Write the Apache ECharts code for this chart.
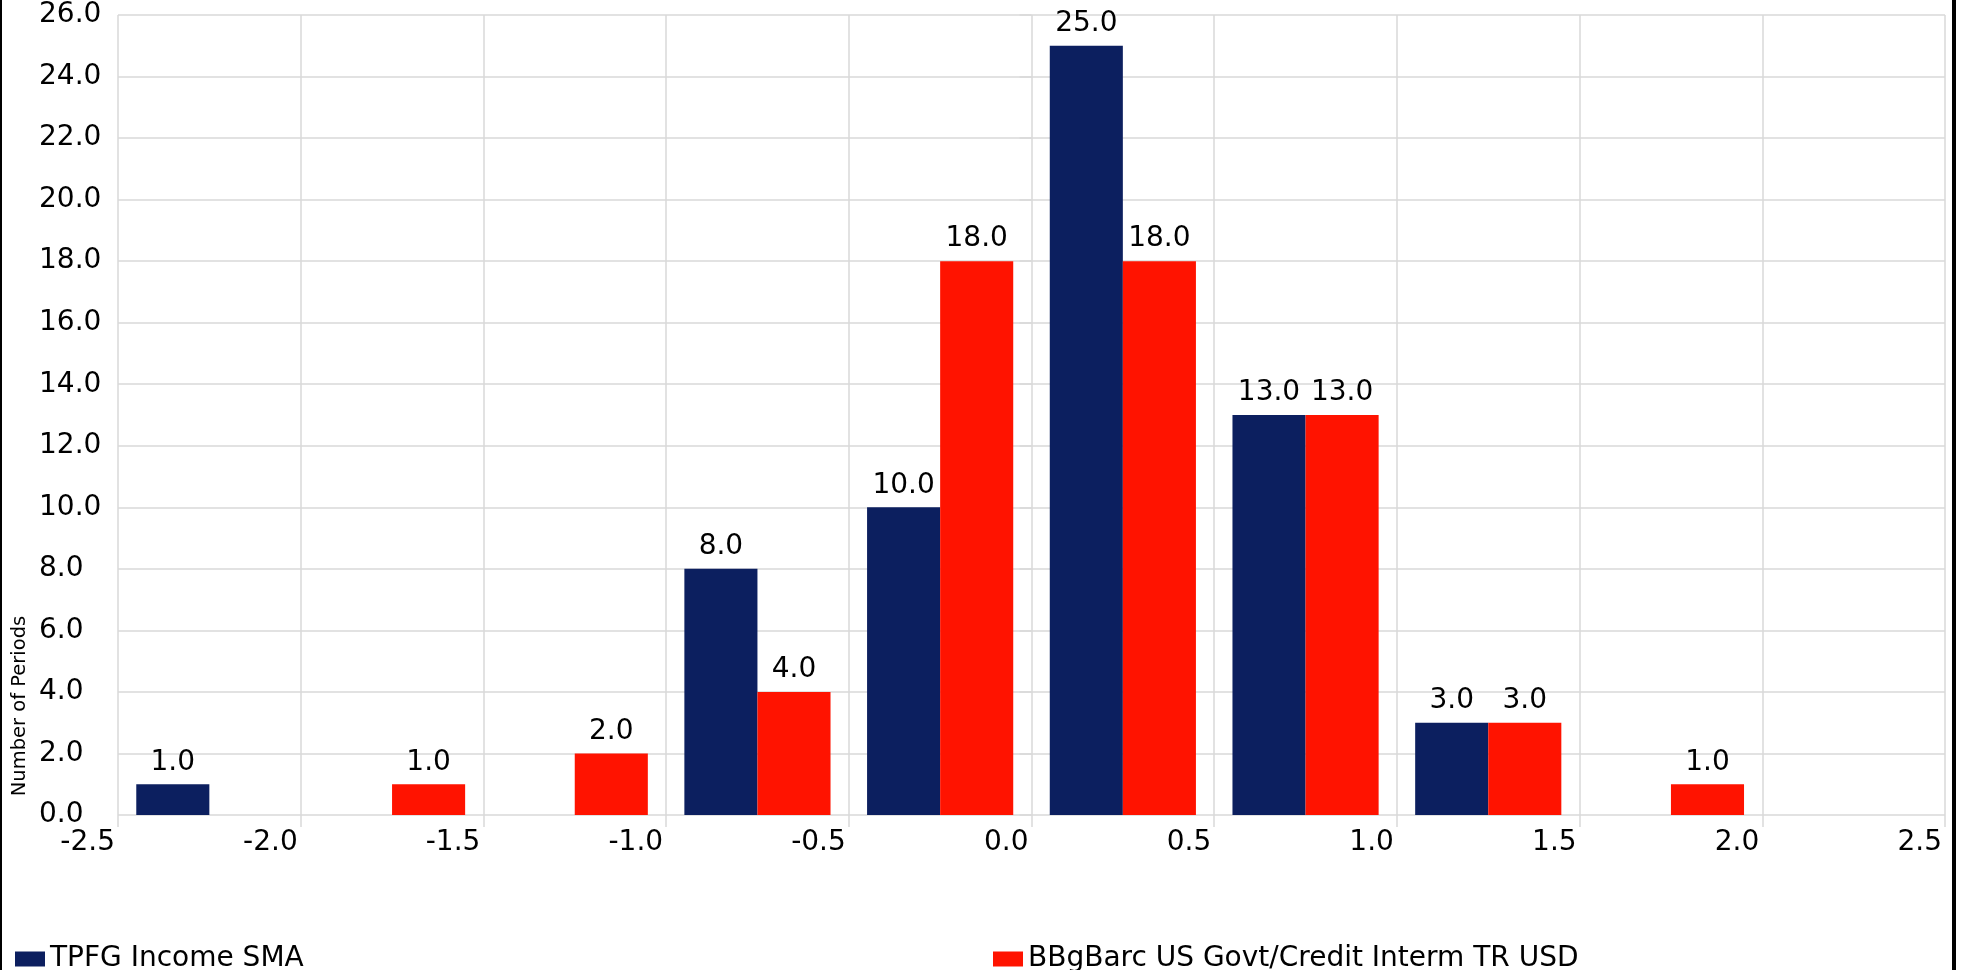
<!DOCTYPE html>
<html>
<head>
<meta charset="utf-8">
<title>Return distribution</title>
<script src="https://cdn.jsdelivr.net/npm/echarts@6/dist/echarts.min.js"></script>
<style>
  html, body { margin: 0; padding: 0; background: #fff; }
  #wrap { position: relative; width: 1963px; height: 970px; overflow: hidden; }
  #chart { position: absolute; left: 0; top: 0; width: 1963px; height: 970px; }
  .edge { position: absolute; top: 0; height: 970px; background: #000; }
</style>
</head>
<body>
<div id="wrap">
  <div id="chart"></div>
  <div class="edge" style="left:0;width:2px;"></div>
  <div class="edge" style="left:1952px;width:4px;"></div>
</div>
<script>
// Histogram bins (centre of each 0.5-wide return bucket)
const binCenters = ['-2.25', '-1.75', '-1.25', '-0.75', '-0.25', '0.25', '0.75', '1.25', '1.75', '2.25'];

// Number of periods falling in each bin
const fundName = 'TPFG Income SMA';
const fundCounts = [1, 0, 0, 8, 10, 25, 13, 3, 0, 0];

const benchName = 'BBgBarc US Govt/Credit Interm TR USD';
const benchCounts = [0, 1, 2, 4, 18, 18, 13, 3, 1, 0];

// Return axis range and y-axis range
const xMin = -2.5, xMax = 2.5, xStep = 0.5;
const yMin = 0, yMax = 26, yStep = 2;

const FONT = 'DejaVu Sans, Verdana, sans-serif';
const gridColor = '#d9d9d9';

const chart = echarts.init(document.getElementById('chart'), null, { renderer: 'canvas' });

const barLabel = {
  show: true,
  position: 'top',
  distance: 8,
  color: '#000',
  fontFamily: FONT,
  fontSize: 28,
  formatter: p => (p.value ? Number(p.value).toFixed(1) : '')
};

chart.setOption({
  animation: false,
  backgroundColor: '#fff',
  grid: { left: 118, top: 15, width: 1827, height: 800, containLabel: false },
  xAxis: [
    {
      type: 'value',
      min: xMin, max: xMax, interval: xStep,
      axisLine: { show: false },
      axisTick: { show: true, length: 12, lineStyle: { color: gridColor, width: 1.5 } },
      axisLabel: {
        color: '#000', fontFamily: FONT, fontSize: 28, margin: 14,
        align: 'right', padding: [0, 3, 0, 0],
        showMinLabel: true, showMaxLabel: true,
        formatter: v => v.toFixed(1)
      },
      splitLine: { show: true, lineStyle: { color: gridColor, width: 1.5 } }
    },
    {
      type: 'category',
      data: binCenters,
      show: false,
      boundaryGap: true
    }
  ],
  yAxis: {
    type: 'value',
    min: yMin, max: yMax, interval: yStep,
    axisLine: { show: false },
    axisTick: { show: true, length: 12, lineStyle: { color: gridColor, width: 1.5 } },
    axisLabel: {
      color: '#000', fontFamily: FONT, fontSize: 28, margin: 79,
      align: 'left',
      formatter: v => v.toFixed(1)
    },
    splitLine: { show: true, lineStyle: { color: gridColor, width: 1.5 } }
  },
  legend: [
    {
      data: [fundName], left: 10, top: 940,
      icon: 'rect', itemWidth: 30, itemHeight: 15, itemGap: 5,
      textStyle: { color: '#000', fontFamily: FONT, fontSize: 28 },
      selectedMode: false
    },
    {
      data: [benchName], left: 988, top: 940,
      icon: 'rect', itemWidth: 30, itemHeight: 15, itemGap: 5,
      textStyle: { color: '#000', fontFamily: FONT, fontSize: 28 },
      selectedMode: false
    }
  ],
  graphic: [
    {
      type: 'text',
      x: 20, y: 706,
      rotation: Math.PI / 2,
      style: {
        text: 'Number of Periods',
        fill: '#000',
        font: '19.5px ' + FONT,
        textAlign: 'center',
        textVerticalAlign: 'middle'
      }
    }
  ],
  series: [
    {
      name: fundName,
      type: 'bar',
      xAxisIndex: 1,
      data: fundCounts,
      itemStyle: { color: '#0C1F5F' },
      barGap: '0%',
      barCategoryGap: '20%',
      label: barLabel
    },
    {
      name: benchName,
      type: 'bar',
      xAxisIndex: 1,
      data: benchCounts,
      itemStyle: { color: '#FF1300' },
      barGap: '0%',
      barCategoryGap: '20%',
      label: barLabel
    }
  ]
});
</script>
</body>
</html>
